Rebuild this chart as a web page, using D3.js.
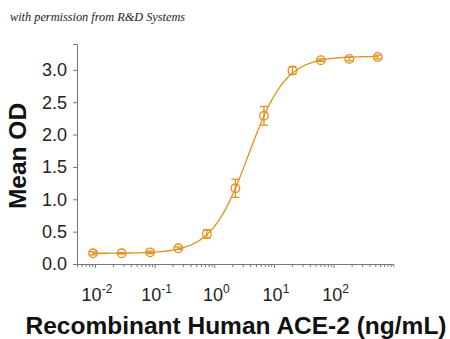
<!DOCTYPE html>
<html>
<head>
<meta charset="utf-8">
<script src="https://cdn.jsdelivr.net/npm/d3@7"></script>
<style>
  html, body { margin: 0; padding: 0; background: #fff; }
  svg { display: block; }
</style>
</head>
<body>
<svg id="chart" width="450" height="339"></svg>
<script>
// ACE-2 binding assay: concentration (ng/mL) vs. mean optical density
const concentrations = [0.0093, 0.028, 0.084, 0.25, 0.75, 2.26, 6.8, 20.4, 61, 183, 550];
const meanOD        = [0.165, 0.165, 0.18, 0.243, 0.464, 1.17, 2.29, 2.99, 3.15, 3.17, 3.20];
const odError       = [0.025, 0.01, 0.02, 0.02, 0.065, 0.14, 0.145, 0.06, 0.02, 0.03, 0.03];

// Four-parameter logistic fit of the series
const fitBottom = 0.165, fitTop = 3.21, fitEC50 = 3.75, fitHill = 1.4;

const yTicks = [0, 0.5, 1.0, 1.5, 2.0, 2.5, 3.0];
const xMajorTicks = [0.01, 0.1, 1, 10, 100];
const xTickExponents = ["-2", "-1", "0", "1", "2"];

const color = "#E4901F";
const svg = d3.select("#chart");

const x = d3.scaleLog().domain([0.005, 1000]).range([77, 393.3]);
const y = d3.scaleLinear().domain([0, 3.4]).range([264, 44]);

// watermark
svg.append("text")
  .attr("x", 10).attr("y", 21)
  .attr("font-family", "'Liberation Serif', serif")
  .attr("font-style", "italic")
  .attr("font-size", 12.3)
  .attr("fill", "#222")
  .text("with permission from R&D Systems");

// y axis
const yAxis = svg.append("g")
  .attr("transform", "translate(77,0)")
  .call(d3.axisLeft(y).tickValues(yTicks).tickFormat(d3.format(".1f")).tickSize(4).tickPadding(6));
yAxis.select(".domain").attr("stroke", "#777").attr("stroke-width", 1);
yAxis.selectAll(".tick line").attr("stroke", "#777");
yAxis.selectAll(".tick text")
  .attr("font-family", "'Liberation Sans', Arial, sans-serif")
  .attr("font-size", 18).attr("fill", "#222");

// x axis: minor ticks every unit of each decade, labels only at powers of ten
const minorTicks = [];
for (let e = -3; e <= 2; e++) {
  for (let m = 1; m <= 9; m++) {
    const v = m * Math.pow(10, e);
    if (v >= 0.005 && v <= 1000) minorTicks.push(v);
  }
}
minorTicks.push(1000);
const xAxis = svg.append("g")
  .attr("transform", "translate(0,264)")
  .call(d3.axisBottom(x).tickValues(minorTicks).tickFormat("").tickSizeInner(3).tickSizeOuter(0));
xAxis.select(".domain").attr("stroke", "#777").attr("stroke-width", 1);
xAxis.selectAll(".tick line")
  .attr("stroke", "#777")
  .attr("y2", d => xMajorTicks.includes(d) ? 4 : 3);

const xLabels = svg.append("g");
xMajorTicks.forEach((v, i) => {
  const t = xLabels.append("text")
    .attr("x", x(v) + 2).attr("y", 301)
    .attr("text-anchor", "middle")
    .attr("font-family", "'Liberation Sans', Arial, sans-serif")
    .attr("font-size", 18).attr("fill", "#222");
  t.append("tspan").text("10");
  t.append("tspan").attr("dy", -8).attr("font-size", 12).text(xTickExponents[i]);
});

// axis titles
svg.append("text")
  .attr("transform", "translate(26,156) rotate(-90)")
  .attr("text-anchor", "middle")
  .attr("font-family", "'Liberation Sans', Arial, sans-serif")
  .attr("font-weight", "bold")
  .attr("font-size", 24.5).attr("fill", "#111")
  .text("Mean OD");

svg.append("text")
  .attr("x", 236).attr("y", 334)
  .attr("text-anchor", "middle")
  .attr("font-family", "'Liberation Sans', Arial, sans-serif")
  .attr("font-weight", "bold")
  .attr("font-size", 24.5).attr("fill", "#111")
  .text("Recombinant Human ACE-2 (ng/mL)");

// fitted curve
const logMin = Math.log10(concentrations[0]);
const logMax = Math.log10(concentrations[concentrations.length - 1]);
const curvePts = d3.range(0, 201).map(i => {
  const c = Math.pow(10, logMin + (logMax - logMin) * i / 200);
  return [c, fitBottom + (fitTop - fitBottom) / (1 + Math.pow(fitEC50 / c, fitHill))];
});
svg.append("path")
  .datum(curvePts)
  .attr("fill", "none")
  .attr("stroke", color)
  .attr("stroke-width", 1.3)
  .attr("d", d3.line().x(d => x(d[0])).y(d => y(d[1])));

// error bars and markers
const pts = concentrations.map((c, i) => ({ c, v: meanOD[i], e: odError[i] }));
const g = svg.append("g").attr("stroke", color).attr("stroke-width", 1.3).attr("fill", "none");
pts.forEach(p => {
  const cx = x(p.c), y1 = y(p.v + p.e), y2 = y(p.v - p.e);
  g.append("line").attr("x1", cx).attr("x2", cx).attr("y1", y1).attr("y2", y2);
  g.append("line").attr("x1", cx - 4).attr("x2", cx + 4).attr("y1", y1).attr("y2", y1);
  g.append("line").attr("x1", cx - 4).attr("x2", cx + 4).attr("y1", y2).attr("y2", y2);
  g.append("circle").attr("cx", cx).attr("cy", y(p.v)).attr("r", 4.3).attr("fill", "none");
});
</script>
</body>
</html>
